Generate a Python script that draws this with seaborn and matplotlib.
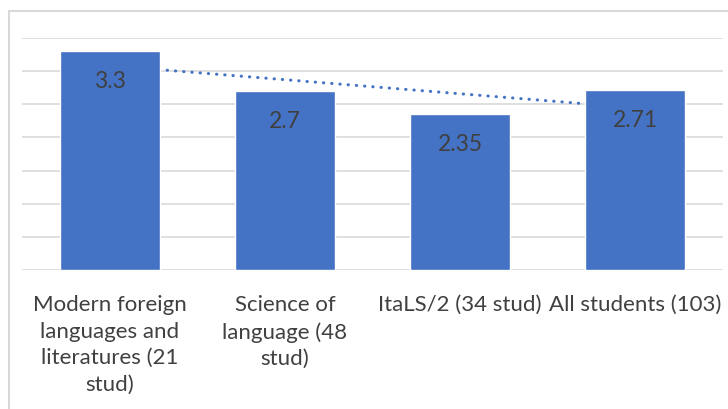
import numpy as np
import pandas as pd
import matplotlib
matplotlib.use("Agg")
import matplotlib.pyplot as plt
import seaborn as sns

categories = [
    "Modern foreign\nlanguages and\nliteratures (21\nstud)",
    "Science of\nlanguage (48\nstud)",
    "ItaLS/2 (34 stud)",
    "All students (103)",
]
values = [3.3, 2.7, 2.35, 2.71]
value_labels = ["3.3", "2.7", "2.35", "2.71"]
y_ticks = [0, 0.5, 1.0, 1.5, 2.0, 2.5, 3.0, 3.5]

BAR = "#4472C4"
GRID = "#D9D9D9"
TEXT = "#404040"

sns.set_theme(style="white")
plt.rcParams["font.family"] = ["Lato", "DejaVu Sans"]

W, H = 728, 410
fig = plt.figure(figsize=(W / 100, H / 100), dpi=100)
ax = fig.add_axes([22 / W, 1 - 271 / H, (723 - 22) / W, (271 - 39) / H])

df = pd.DataFrame({"category": categories, "value": values})
sns.barplot(data=df, x="category", y="value", color=BAR, saturation=1,
            width=0.57, ax=ax, zorder=3)

# linear trend line across the categories, drawn behind the bars
xs = np.arange(len(values))
slope, intercept = np.polyfit(xs, values, 1)
ax.plot(xs, slope * xs + intercept, color=BAR, lw=2.2,
        linestyle=(0, (0.1, 2.6)), dash_capstyle="round", zorder=2)

ax.set_ylim(0, 3.5)
ax.set_xlim(-0.5, len(values) - 0.5)
ax.set_yticks(y_ticks)
ax.yaxis.grid(True, color=GRID, lw=1.2, zorder=0)
ax.set_axisbelow(True)
ax.tick_params(axis="y", left=False, labelleft=False)
ax.tick_params(axis="x", bottom=False, pad=11.5)
for lbl in ax.get_xticklabels():
    lbl.set_fontsize(16)
    lbl.set_color(TEXT)
    lbl.set_multialignment("center")
    lbl.set_linespacing(1.4)
ax.set_xlabel("")
ax.set_ylabel("")
for s in ax.spines.values():
    s.set_visible(False)

for i, (v, t) in enumerate(zip(values, value_labels)):
    ax.annotate(t, (i, v), xytext=(0, -21), textcoords="offset points",
                ha="center", va="center", fontsize=16.5, color=TEXT, zorder=4)

# chart-area frame
frame = plt.Rectangle((9 / W, -0.1), 1.2, 1 - 12 / H + 0.1,
                      transform=fig.transFigure, fill=False,
                      edgecolor=GRID, lw=1.5, zorder=0)
fig.patches.append(frame)

fig.savefig("out.png", dpi=100)
